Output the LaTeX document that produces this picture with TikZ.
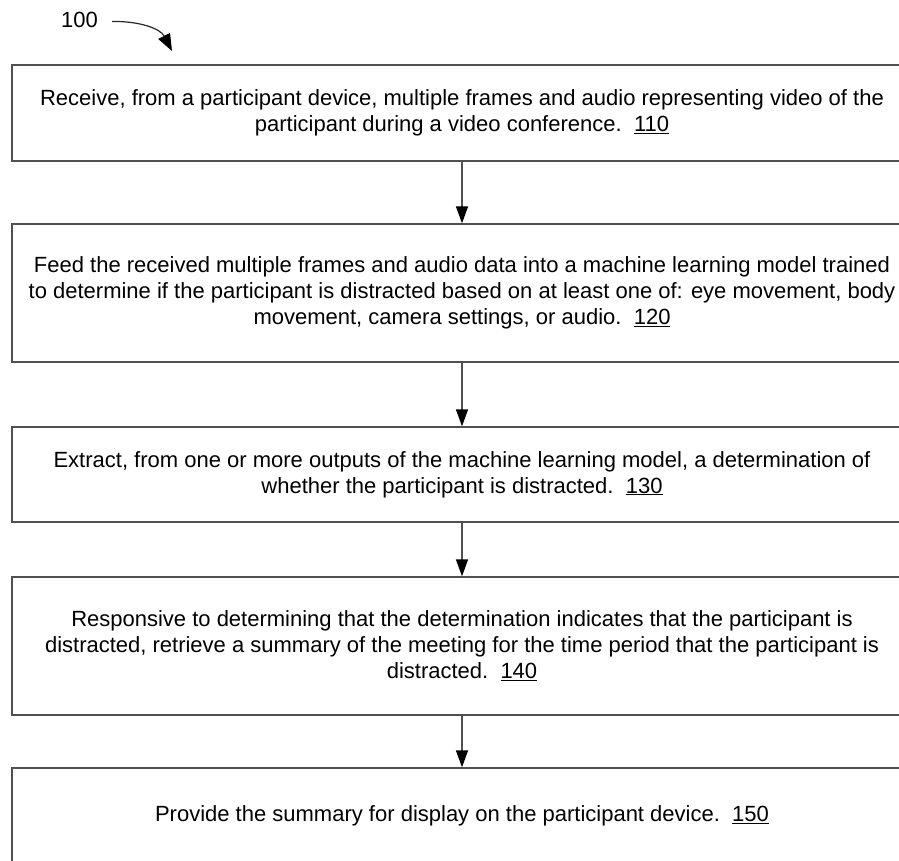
\documentclass[tikz,border=0pt]{standalone}
\usepackage{fontspec}
\setmainfont{Liberation Sans}
\usetikzlibrary{arrows.meta}
\definecolor{linegray}{HTML}{505050}
\newcommand{\refnum}[1]{\setbox0\hbox{#1}\rlap{\rule[-2.2pt]{\wd0}{1.3pt}}\box0}
\begin{document}
\begin{tikzpicture}[x=1pt,y=-1pt,
  stepbox/.style={draw=linegray, line width=1.3pt, minimum width=900pt, align=center, inner sep=0pt,
     font=\fontsize{22}{26}\selectfont},
  flow/.style={draw=linegray, line width=1.3pt, -{Triangle[width=12pt,length=17pt,color=black]}},
  lbl/.style={font=\fontsize{22}{26}\selectfont, inner sep=0pt}]
\useasboundingbox (0,0) rectangle (899,861);
\clip (0,0) rectangle (899,861);
\fill[white] (0,0) rectangle (899,861);

\node[lbl, anchor=base] (l100) at (79.5,28) {100};
\coordinate (c100s) at (112,21.5);
\coordinate (c100t) at (172,51);
\draw[line width=1.2pt, draw=black!85, -{Triangle[width=13pt,length=17pt,color=black]}]
  (c100s) .. controls (138,21) and (160,28) .. (c100t);

\node[stepbox, minimum height=96pt] (b1) at (462,113)
  {Receive, from a participant device, multiple frames and audio representing video of the\\
   participant during a video conference.\ \ \refnum{110}};
\node[stepbox, minimum height=138pt] (b2) at (462,293)
  {Feed the received multiple frames and audio data into a machine learning model trained\\
   to determine if the participant is distracted based on at least one of: eye movement, body\\
   movement, camera settings, or audio.\ \ \refnum{120}};
\node[stepbox, minimum height=95pt] (b3) at (462,474.5)
  {Extract, from one or more outputs of the machine learning model, a determination of\\
   whether the participant is distracted.\ \ \refnum{130}};
\node[stepbox, minimum height=138pt] (b4) at (462,646)
  {Responsive to determining that the determination indicates that the participant is\\
   distracted, retrieve a summary of the meeting for the time period that the participant is\\
   distracted.\ \ \refnum{140}};
\node[stepbox, minimum height=96pt] (b5) at (462,816)
  {Provide the summary for display on the participant device.\ \ \refnum{150}};

\draw[flow] (b1.south) -- (b2.north);
\draw[flow] (b2.south) -- (b3.north);
\draw[flow] (b3.south) -- (b4.north);
\draw[flow] (b4.south) -- (b5.north);
\end{tikzpicture}
\end{document}
